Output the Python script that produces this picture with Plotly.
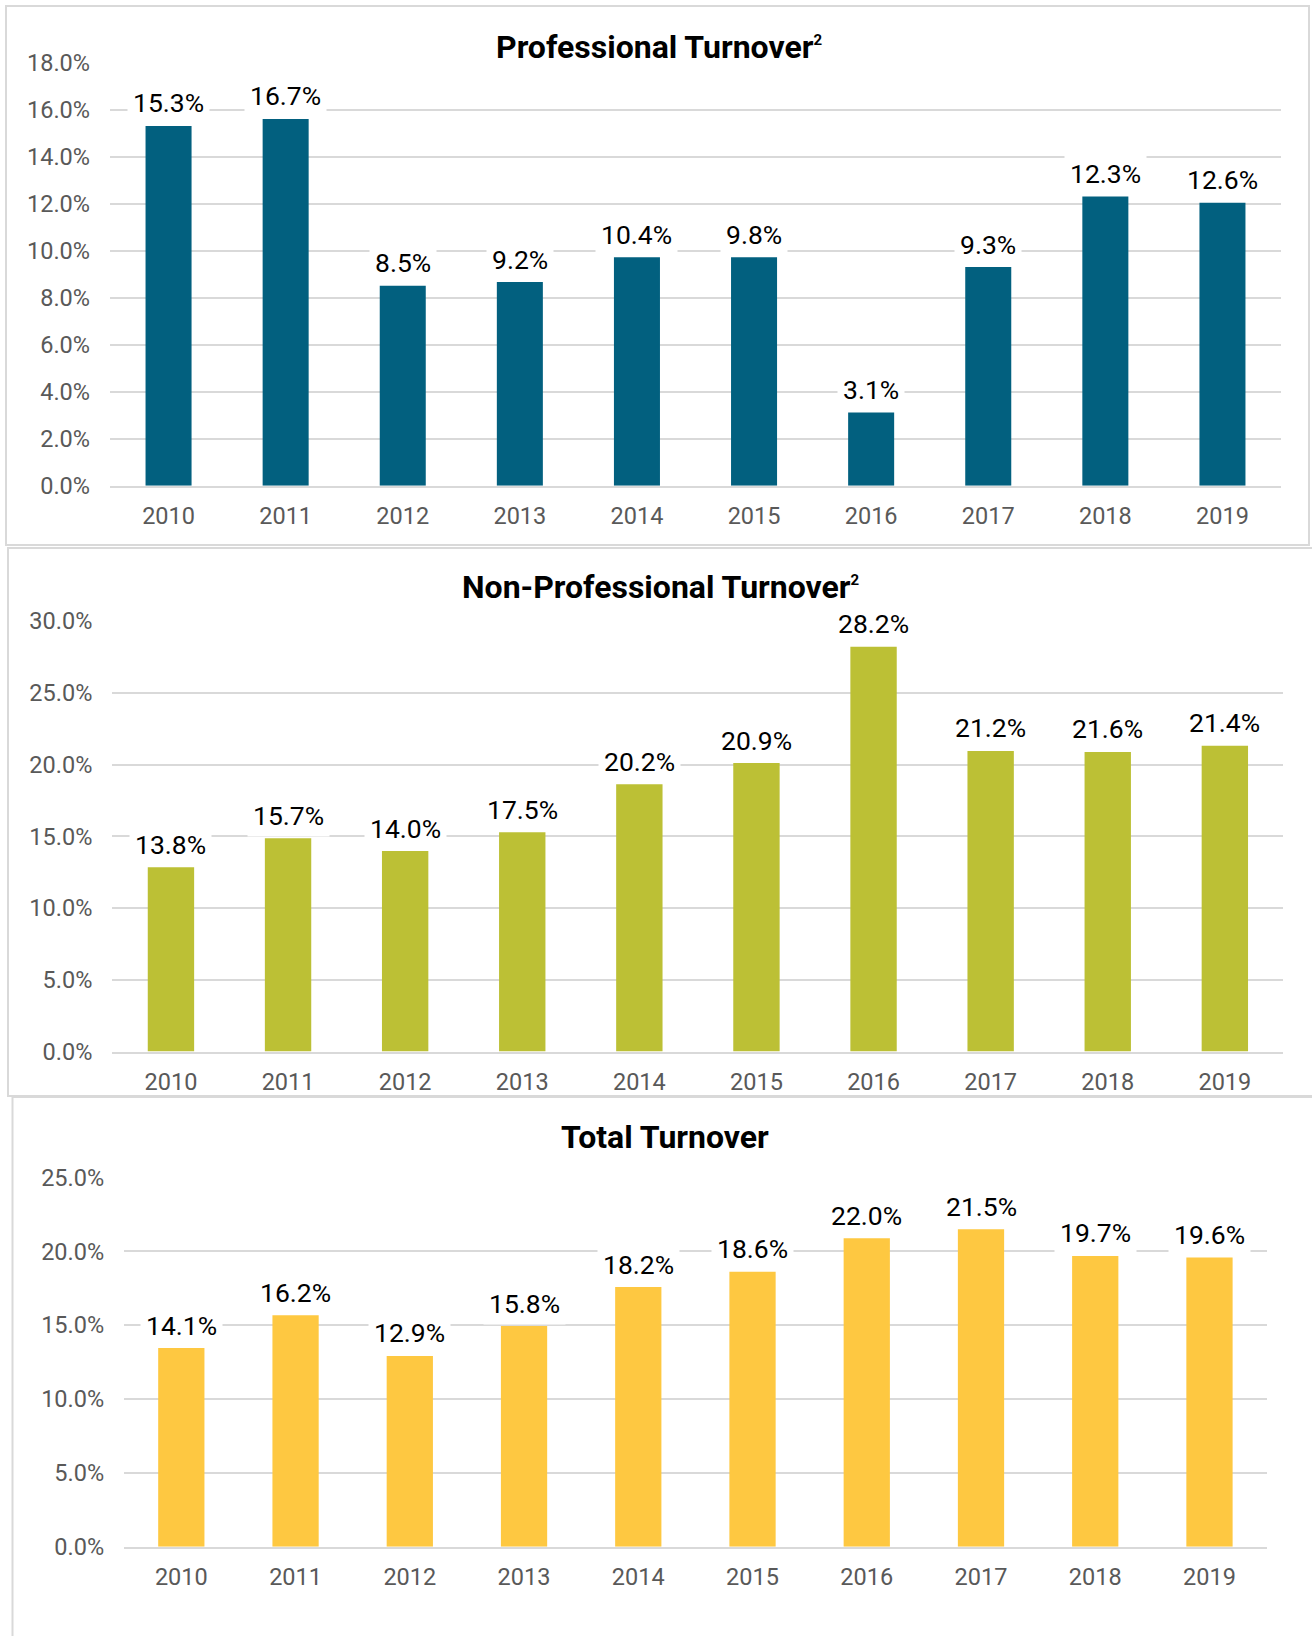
import plotly.graph_objects as go

W, H = 1312, 1636

years = ['2010', '2011', '2012', '2013', '2014', '2015', '2016', '2017', '2018', '2019']

# bar heights as drawn (percent)
prof_bar = [15.3, 15.6, 8.5, 8.66, 9.72, 9.72, 3.11, 9.3, 12.3, 12.03]
prof_labels = ['15.3%', '16.7%', '8.5%', '9.2%', '10.4%', '9.8%', '3.1%', '9.3%', '12.3%', '12.6%']

nonprof_bar = [12.84, 14.87, 13.97, 15.28, 18.63, 20.1, 28.2, 20.95, 20.88, 21.3]
nonprof_labels = ['13.8%', '15.7%', '14.0%', '17.5%', '20.2%', '20.9%', '28.2%', '21.2%', '21.6%', '21.4%']

total_bar = [13.45, 15.68, 12.92, 14.94, 17.58, 18.61, 20.89, 21.49, 19.69, 19.59]
total_labels = ['14.1%', '16.2%', '12.9%', '15.8%', '18.2%', '18.6%', '22.0%', '21.5%', '19.7%', '19.6%']

SUP = "<sup><span style='font-size:15px'>2</span></sup>"
titles = ['Professional Turnover' + SUP, 'Non-Professional Turnover' + SUP, 'Total Turnover']
colors = ['#02607F', '#BCC035', '#FEC841']
y_ranges = [[0, 18], [0, 30], [0, 25]]
y_dticks = [2, 5, 5]

# layout geometry in pixels
x_dom_px = [(110, 1281), (112.4, 1283.4), (124.2, 1266.6)]
y_dom_px = [(485.7, 62.5), (1051.6, 621), (1546.7, 1177.5)]
title_pos_px = [(658.5, 46.5), (661, 587), (664.5, 1136.7)]
bar_widths = [0.393, 0.396, 0.405]
boxes_px = [(6, 6, 1309, 545), (8, 548, 1330, 1096), (12.5, 1097, 1330, 1660)]

def px(x):
    return x / W

def py(y):
    return 1 - y / H

GRID = '#D9D9D9'
FONT = 'Roboto'

idx = list(range(len(years)))

fig = go.Figure()
series = [(prof_bar, prof_labels), (nonprof_bar, nonprof_labels), (total_bar, total_labels)]
annotations = []
shapes = []

for i, (vals, labs) in enumerate(series):
    sfx = '' if i == 0 else str(i + 1)
    fig.add_trace(go.Bar(
        x=idx, y=vals, marker=dict(color=colors[i], line=dict(width=0)),
        width=bar_widths[i], xaxis='x' + sfx, yaxis='y' + sfx,
        hoverinfo='skip', showlegend=False,
    ))
    for k, v, t in zip(idx, vals, labs):
        annotations.append(dict(
            x=k, y=v, xref='x' + sfx, yref='y' + sfx, text=t, showarrow=False,
            yanchor='middle', xanchor='center', yshift=23,
            font=dict(family=FONT, size=26.5, color='#000000'),
            bgcolor='white', borderpad=5,
        ))
    tx, ty = title_pos_px[i]
    annotations.append(dict(
        x=px(tx), y=py(ty), xref='paper', yref='paper', text='<b>' + titles[i] + '</b>',
        showarrow=False, xanchor='center', yanchor='middle',
        font=dict(family=FONT, size=32, color='#000000'),
    ))
    x0, y0, x1, y1 = boxes_px[i]
    shapes.append(dict(type='rect', xref='paper', yref='paper',
                       x0=px(x0), x1=px(x1), y0=py(y1), y1=py(y0),
                       line=dict(color=GRID, width=2), fillcolor='rgba(0,0,0,0)', layer='below'))

    xd = [px(x_dom_px[i][0]), px(x_dom_px[i][1])]
    yd = [py(y_dom_px[i][0]), py(y_dom_px[i][1])]
    fig.update_layout(**{
        'xaxis' + sfx: dict(
            domain=xd, anchor='y' + sfx, range=[-0.5, len(years) - 0.5],
            tickmode='array', tickvals=idx, ticktext=years, showgrid=False,
            zeroline=False, showline=True, linecolor=GRID, linewidth=2, ticks='',
            tickfont=dict(family=FONT, size=23.5, color='#595959'),
            ticklabelstandoff=8, fixedrange=True, automargin=False,
        ),
        'yaxis' + sfx: dict(
            domain=yd, anchor='x' + sfx, range=y_ranges[i], dtick=y_dticks[i],
            tick0=0, tickformat='.1f', ticksuffix='%', showgrid=True,
            gridcolor=GRID, gridwidth=2, zeroline=False, showline=False, ticks='',
            tickfont=dict(family=FONT, size=23.5, color='#595959'),
            ticklabelstandoff=19, fixedrange=True, automargin=False,
        ),
    })

fig.update_layout(
    template='none',
    width=W, height=H, autosize=False,
    margin=dict(l=0, r=0, t=0, b=0, pad=0),
    paper_bgcolor='white', plot_bgcolor='white',
    annotations=annotations, shapes=shapes,
    font=dict(family=FONT), showlegend=False,
)

fig.write_html('out.html', config={'displayModeBar': False},
               post_script="document.body.style.margin='0';document.body.style.overflow='hidden';")
